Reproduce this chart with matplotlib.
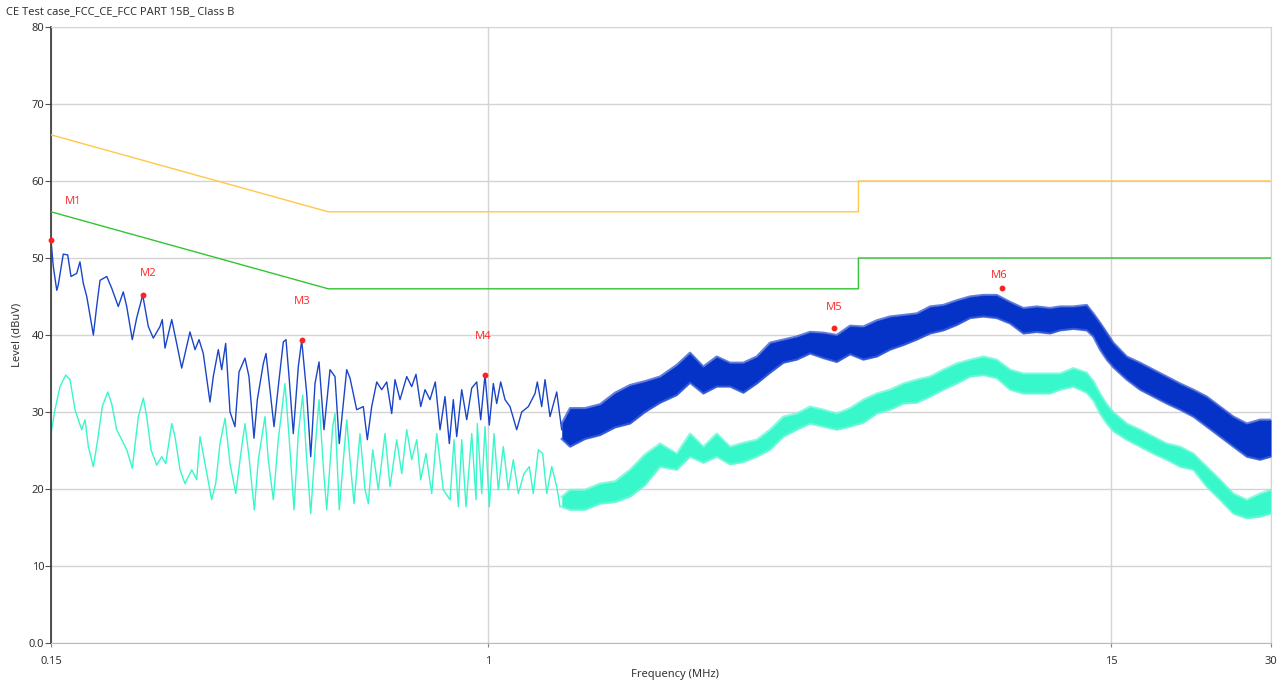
import matplotlib
matplotlib.use("Agg")
import matplotlib.pyplot as plt

plt.rcParams['font.family'] = ['Noto Sans', 'DejaVu Sans']

title = "CE Test case_FCC_CE_FCC PART 15B_ Class B"
x_label = "Frequency (MHz)"
y_label = "Level (dBuV)"
x_ticks = [0.15, 1, 15, 30]
x_tick_labels = ["0.15", "1", "15", "30"]
y_ticks = [0, 10, 20, 30, 40, 50, 60, 70, 80]
y_tick_labels = ["0.0", "10", "20", "30", "40", "50", "60", "70", "80"]

# Limit lines (FCC Part 15B Class B)
limit_freq = [0.15, 0.5, 5.0, 5.0, 30.0]
qp_limit = [66, 56, 56, 60, 60]
avg_limit = [56, 46, 46, 50, 50]

# Peak trace, low-frequency part (MHz, dBuV)
peak_freq = [0.1500, 0.1515, 0.1538, 0.1548, 0.1582, 0.1613, 0.1636, 0.1677, 0.1701, 0.1726,
             0.1752, 0.1803, 0.1829, 0.1856, 0.1911, 0.1952, 0.2009, 0.2053, 0.2084, 0.2135,
             0.2176, 0.2234, 0.2289, 0.2339, 0.2408, 0.2432, 0.2461, 0.2534, 0.2589, 0.2646,
             0.2743, 0.2804, 0.2853, 0.2906, 0.2992, 0.3035, 0.3102, 0.3148, 0.3203, 0.3264,
             0.3335, 0.3394, 0.3483, 0.3544, 0.3622, 0.3675, 0.3772, 0.3816, 0.3871, 0.3951,
             0.4025, 0.4114, 0.4162, 0.4222, 0.4296, 0.4391, 0.4456, 0.4554, 0.4634, 0.4721,
             0.4804, 0.4909, 0.5039, 0.5149, 0.5246, 0.5418, 0.5496, 0.5658, 0.5823, 0.5925,
             0.6039, 0.6172, 0.6307, 0.6446, 0.6587, 0.6682, 0.6829, 0.7031, 0.7185, 0.7320,
             0.7471, 0.7612, 0.7779, 0.7960, 0.8125, 0.8303, 0.8460, 0.8608, 0.8736, 0.8928,
             0.9124, 0.9324, 0.9528, 0.9695, 0.9878, 1.0064, 1.0241, 1.0393, 1.0575, 1.0775,
             1.1011, 1.1336, 1.1585, 1.1922, 1.2274, 1.2397, 1.2636, 1.2819, 1.3100, 1.3487,
             1.3783]
peak_level = [52.3, 48.9, 45.8, 46.5, 50.5, 50.4, 47.6, 48.0, 49.5, 46.7,
              45.0, 40.0, 43.7, 47.1, 47.6, 46.1, 43.7, 45.6, 43.7, 39.4,
              42.2, 45.2, 41.1, 39.6, 41.1, 42.0, 38.3, 42.0, 38.9, 35.7,
              40.4, 38.1, 39.4, 37.6, 31.3, 34.6, 38.1, 35.5, 38.9, 30.0,
              28.1, 35.2, 37.0, 34.6, 26.6, 31.6, 36.3, 37.6, 33.7, 28.1,
              33.3, 39.1, 39.4, 34.2, 27.2, 35.9, 39.3, 32.4, 24.2, 33.7,
              36.5, 27.7, 35.5, 34.6, 25.9, 35.5, 34.4, 30.3, 30.7, 26.4,
              30.7, 33.9, 32.9, 33.9, 29.8, 34.2, 31.6, 34.6, 33.3, 34.9,
              30.7, 32.9, 31.6, 33.9, 27.7, 32.0, 25.9, 31.6, 26.8, 32.9,
              29.0, 33.1, 33.9, 29.0, 34.8, 28.3, 33.7, 31.1, 33.9, 31.6,
              30.7, 27.7, 30.0, 30.7, 32.4, 33.9, 30.7, 34.2, 29.4, 32.6,
              27.7]

# Average trace, low-frequency part (MHz, dBuV)
avg_freq = [0.1500, 0.1526, 0.1560, 0.1599, 0.1629, 0.1665, 0.1689, 0.1714, 0.1739, 0.1764,
            0.1803, 0.1837, 0.1874, 0.1919, 0.1952, 0.1995, 0.2039, 0.2084, 0.2135, 0.2192,
            0.2240, 0.2273, 0.2316, 0.2374, 0.2426, 0.2469, 0.2534, 0.2570, 0.2627, 0.2684,
            0.2764, 0.2824, 0.2865, 0.2928, 0.3014, 0.3067, 0.3125, 0.3194, 0.3264, 0.3346,
            0.3434, 0.3483, 0.3544, 0.3627, 0.3691, 0.3799, 0.3854, 0.3939, 0.4025, 0.4144,
            0.4222, 0.4309, 0.4391, 0.4475, 0.4554, 0.4634, 0.4721, 0.4804, 0.4894, 0.4967,
            0.5098, 0.5149, 0.5246, 0.5418, 0.5496, 0.5592, 0.5740, 0.5866, 0.5951, 0.6065,
            0.6215, 0.6398, 0.6539, 0.6732, 0.6880, 0.7031, 0.7185, 0.7343, 0.7471, 0.7645,
            0.7837, 0.8009, 0.8242, 0.8485, 0.8634, 0.8797, 0.8928, 0.9096, 0.9324, 0.9500,
            0.9553, 0.9738, 0.9878, 1.0064, 1.0272, 1.0466, 1.0695, 1.0930, 1.1170, 1.1415,
            1.1701, 1.1974, 1.2184, 1.2451, 1.2691, 1.2914, 1.3197, 1.3487, 1.3681]
avg_level = [27.2, 30.3, 33.3, 34.8, 34.2, 30.3, 29.0, 27.7, 29.0, 25.5,
             22.9, 26.4, 30.7, 32.6, 31.1, 27.7, 26.4, 25.1, 22.7, 29.4,
             31.8, 29.4, 25.1, 23.1, 24.2, 23.3, 28.5, 26.8, 22.5, 20.7,
             22.5, 21.2, 26.8, 23.3, 18.6, 20.7, 25.9, 29.2, 23.3, 19.4,
             25.5, 28.5, 24.2, 17.3, 23.8, 29.4, 23.8, 18.6, 26.4, 33.7,
             26.4, 17.3, 27.2, 32.2, 23.8, 16.8, 25.1, 31.6, 22.9, 17.3,
             28.1, 29.8, 17.3, 29.0, 23.8, 18.1, 27.2, 19.9, 18.1, 25.1,
             19.9, 27.2, 20.3, 26.4, 22.0, 27.7, 23.8, 26.4, 21.2, 24.6,
             19.4, 27.2, 19.9, 18.6, 26.4, 17.7, 26.4, 17.7, 27.2, 18.6,
             28.5, 19.4, 28.1, 17.7, 27.2, 19.9, 25.5, 19.9, 23.8, 19.4,
             22.0, 22.9, 19.4, 25.1, 24.6, 19.4, 22.9, 20.3, 17.7]

# Dense high-frequency part: envelope of the sweep (MHz, dBuV)
band_freq = [1.3783, 1.4289, 1.5251, 1.6278, 1.7374, 1.8543, 1.9791, 2.1124, 2.2712, 2.4063,
             2.5494, 2.7021, 2.8629, 3.0331, 3.2148, 3.4060, 3.6085, 3.8248, 4.0522, 4.2931,
             4.5504, 4.8210, 5.1076, 5.4137, 5.7356, 6.0767, 6.4408, 6.8238, 7.2296, 7.6628,
             8.1185, 8.6013, 9.1167, 9.6588, 10.233, 10.846, 11.491, 12.001, 12.715, 13.477,
             13.869, 14.278, 14.700, 15.127, 16.034, 16.987, 17.997, 19.076, 20.210, 21.412,
             22.695, 24.044, 25.474, 27.001, 28.606, 30.0]
peak_hi = [28.5, 30.5, 30.5, 31.0, 32.5, 33.5, 34.0, 34.6, 36.1, 37.7,
           35.9, 37.2, 36.4, 36.4, 37.2, 39.0, 39.4, 39.8, 40.4, 40.3,
           40.0, 41.2, 41.1, 41.9, 42.4, 42.6, 42.8, 43.7, 43.9, 44.5,
           45.0, 45.2, 45.2, 44.3, 43.5, 43.7, 43.5, 43.7, 43.7, 43.9,
           42.8, 41.6, 40.3, 39.0, 37.2, 36.4, 35.5, 34.6, 33.7, 32.9,
           32.0, 30.7, 29.4, 28.5, 29.0, 29.0]
peak_lo = [26.5, 25.5, 26.5, 27.0, 28.0, 28.5, 30.0, 31.2, 32.2, 33.8,
           32.4, 33.3, 33.3, 32.5, 33.7, 35.1, 36.4, 36.8, 37.6, 37.0,
           36.5, 37.5, 36.8, 37.2, 38.1, 38.7, 39.4, 40.2, 40.6, 41.3,
           42.2, 42.4, 42.2, 41.5, 40.2, 40.4, 40.2, 40.6, 40.8, 40.6,
           39.8, 38.1, 36.8, 35.8, 34.2, 32.9, 32.0, 31.1, 30.3, 29.4,
           28.1, 26.8, 25.5, 24.2, 23.8, 24.2]
avg_hi = [19.0, 19.9, 19.9, 20.7, 21.0, 22.5, 24.5, 25.9, 24.6, 27.2,
          25.5, 27.2, 25.5, 26.0, 26.4, 27.7, 29.4, 29.8, 30.7, 30.3,
          29.8, 30.5, 31.6, 32.4, 32.9, 33.7, 34.2, 34.6, 35.5, 36.3,
          36.8, 37.2, 36.8, 35.5, 35.0, 35.0, 35.0, 35.0, 35.7, 35.1,
          34.0, 32.4, 31.0, 30.0, 28.5, 27.7, 26.8, 25.9, 25.5, 24.6,
          22.9, 21.2, 19.4, 18.6, 19.4, 19.9]
avg_lo = [17.7, 17.3, 17.3, 18.1, 18.3, 19.0, 20.5, 22.9, 22.5, 24.2,
          23.4, 24.2, 23.2, 23.5, 24.2, 25.1, 26.8, 27.7, 28.5, 28.1,
          27.7, 28.1, 28.6, 29.8, 30.3, 31.1, 31.2, 32.0, 32.9, 33.7,
          34.6, 34.8, 34.4, 32.9, 32.4, 32.4, 32.4, 32.9, 33.3, 32.5,
          31.5, 29.8, 28.5, 27.5, 26.4, 25.5, 24.6, 23.8, 22.9, 22.5,
          20.3, 18.6, 16.8, 16.2, 16.4, 16.8]

# Markers
marker_names = ["M1", "M2", "M3", "M4", "M5", "M6"]
marker_freq = [0.1500, 0.2234, 0.4456, 0.9878, 4.4973, 9.3168]
marker_level = [52.3, 45.2, 39.3, 34.8, 40.9, 46.1]
marker_label_offsets = [(22, 39), (5, 21), (0, 39), (-2, 39), (0, 21), (-3, 13)]

PEAK_C = "#0533C8"
PEAK_EDGE = "#3D5FD6"
AVG_C = "#38F7CA"
AVG_EDGE = "#6CF9D8"
QP_C = "#FFC848"
AVG_LIM_C = "#33C433"
GRID_C = "#D4D4D4"
TXT_C = "#333333"

fig = plt.figure(figsize=(12.85, 6.84), dpi=100)
ax = fig.add_axes([51 / 1285, 1 - 643 / 684, 1220 / 1285, 616 / 684])

ax.set_xscale("log")
ax.set_xlim(0.15, 30)
ax.set_ylim(0, 80)

ax.set_xticks(x_ticks)
ax.set_xticklabels(x_tick_labels)
ax.xaxis.set_minor_locator(matplotlib.ticker.NullLocator())
ax.set_yticks(y_ticks)
ax.set_yticklabels(y_tick_labels)

ax.grid(True, color=GRID_C, lw=1.0, zorder=0)
ax.set_axisbelow(True)
for s in ["top", "right"]:
    ax.spines[s].set_color(GRID_C)
ax.spines["bottom"].set_color("#BBBBBB")
ax.spines["left"].set_color("#333333")
ax.spines["left"].set_linewidth(1.2)
ax.tick_params(axis="y", length=4, width=0.8, color="#555555", labelsize=8, labelcolor=TXT_C, pad=1)
ax.tick_params(axis="x", length=3, width=0.8, color="#888888", labelsize=8, labelcolor=TXT_C, pad=6)

# Average trace
ax.fill_between(band_freq, avg_lo, avg_hi, color=AVG_C, lw=0, zorder=2)
ax.plot(band_freq, avg_hi, color=AVG_EDGE, lw=1.6, alpha=0.8, zorder=2)
ax.plot(band_freq, avg_lo, color=AVG_EDGE, lw=1.6, alpha=0.8, zorder=2)
ax.plot(avg_freq, avg_level, color=AVG_C, lw=1.0, zorder=2)

# Peak trace
ax.fill_between(band_freq, peak_lo, peak_hi, color=PEAK_C, lw=0, zorder=3)
ax.plot(band_freq, peak_hi, color=PEAK_EDGE, lw=1.6, alpha=0.8, zorder=3)
ax.plot(band_freq, peak_lo, color=PEAK_EDGE, lw=1.6, alpha=0.8, zorder=3)
ax.plot(peak_freq, peak_level, color="#1A45C8", lw=1.0, zorder=3)

# Limits
ax.plot(limit_freq, qp_limit, color=QP_C, lw=1.0, zorder=4)
ax.plot(limit_freq, avg_limit, color=AVG_LIM_C, lw=1.0, zorder=4)

# Markers
ax.plot(marker_freq, marker_level, "o", color="#FF2020", ms=3.2, zorder=5, clip_on=False)
for name, f, lv, off in zip(marker_names, marker_freq, marker_level, marker_label_offsets):
    ax.annotate(name, (f, lv), xytext=off, textcoords="offset pixels",
                ha="center", va="center", color="#FF3030", fontsize=8, zorder=6)

fig.text(6 / 1285, 1 - 12 / 684, title, ha="left", va="center", fontsize=8, color=TXT_C)
fig.text(675 / 1285, 1 - 675 / 684, x_label, ha="center", va="center", fontsize=8, color=TXT_C)
fig.text(17 / 1285, 1 - 335 / 684, y_label, ha="center", va="center", fontsize=8,
         color=TXT_C, rotation=90)

fig.savefig("out.png", dpi=100)
